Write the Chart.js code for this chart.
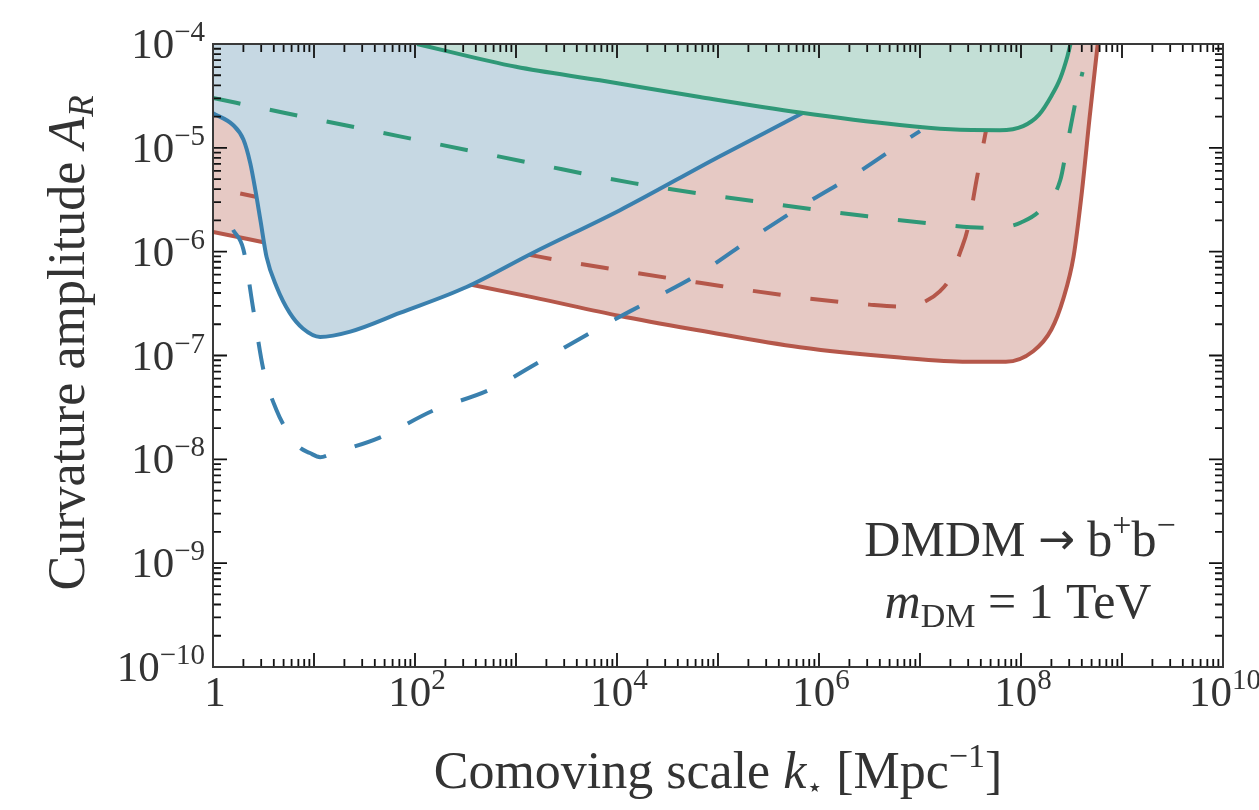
<!DOCTYPE html>
<html>
<head>
<meta charset="utf-8">
<script src="https://cdn.jsdelivr.net/npm/chart.js@4.4.1/dist/chart.umd.min.js"></script>
<style>
  html, body { margin: 0; padding: 0; background: #ffffff; }
  #c { display: block; }
</style>
</head>
<body>
<canvas id="c" width="1259" height="810"></canvas>
<script>
// ---------------- DATA ----------------
// Comoving scale k [Mpc^-1] and curvature amplitude A_R

// Blue solid (filled above)
const blueSolidK = [1.0, 1.58, 2.0, 2.34, 2.63, 2.95, 3.39, 4.27, 5.75, 7.76, 11.5, 22.9, 70.8, 324, 1480, 10700, 100000, 646000, 13500000];
const blueSolidA = [2.15e-5, 1.66e-5, 1.20e-5, 7.08e-6, 3.89e-6, 2.00e-6, 8.91e-7, 4.57e-7, 2.57e-7, 1.82e-7, 1.51e-7, 1.70e-7, 2.57e-7, 4.57e-7, 9.77e-7, 2.51e-6, 8.13e-6, 2.09e-5, 1.0e-4];

// Blue dashed
const blueDashK = [1.58, 2.0, 2.51, 3.16, 4.27, 5.37, 7.08, 9.12, 11.5, 15.5, 44.7, 151, 550, 1860, 6760, 21400, 66100, 224000, 759000, 2400000, 7410000, 10000000];
const blueDashA = [1.62e-6, 1.05e-6, 2.75e-7, 7.24e-8, 2.95e-8, 1.91e-8, 1.32e-8, 1.15e-8, 1.05e-8, 1.15e-8, 1.62e-8, 2.95e-8, 4.68e-8, 9.12e-8, 1.86e-7, 3.39e-7, 6.17e-7, 1.38e-6, 2.95e-6, 5.75e-6, 1.20e-5, 1.45e-5];

// Red solid (filled above)
const redSolidK = [1.0, 10, 100, 1480, 10700, 66100, 646000, 6310000, 29500000, 70800000, 132000000, 200000000, 263000000, 331000000, 398000000, 479000000, 575000000];
const redSolidA = [1.55e-6, 9.77e-7, 6.17e-7, 3.63e-7, 2.40e-7, 1.74e-7, 1.20e-7, 9.55e-8, 8.71e-8, 8.71e-8, 1.10e-7, 1.78e-7, 3.55e-7, 8.91e-7, 3.55e-6, 2.00e-5, 1.0e-4];

// Red dashed
const redDashK = [1.86, 31.6, 1740, 10700, 66100, 646000, 3160000, 7080000, 10700000, 15800000, 20000000, 25100000, 29500000, 36300000, 43700000, 50100000];
const redDashA = [3.63e-6, 2.04e-6, 8.91e-7, 6.61e-7, 5.01e-7, 3.63e-7, 3.09e-7, 2.95e-7, 3.24e-7, 4.17e-7, 5.62e-7, 1.0e-6, 1.62e-6, 4.90e-6, 1.26e-5, 2.51e-5];

// Green solid (filled above)
const greenSolidK = [105, 1000, 6760, 66100, 646000, 6310000, 20000000, 61700000, 105000000, 151000000, 200000000, 245000000, 288000000, 309000000];
const greenSolidA = [1.0e-4, 6.03e-5, 4.47e-5, 3.09e-5, 2.19e-5, 1.66e-5, 1.51e-5, 1.48e-5, 1.62e-5, 2.09e-5, 3.16e-5, 4.68e-5, 7.59e-5, 1.0e-4];

// Green dashed
const greenDashK = [1.0, 4.9, 70.8, 1480, 14500, 302000, 3020000, 13500000, 41700000, 72400000, 100000000, 155000000, 245000000, 288000000, 355000000, 407000000];
const greenDashA = [3.02e-5, 2.19e-5, 1.29e-5, 7.08e-6, 4.57e-6, 2.95e-6, 2.19e-6, 1.86e-6, 1.70e-6, 1.74e-6, 1.91e-6, 2.51e-6, 4.90e-6, 1.10e-5, 3.09e-5, 5.37e-5];

// Axis ticks and labels
const xMajorTicks = [1, 1e1, 1e2, 1e3, 1e4, 1e5, 1e6, 1e7, 1e8, 1e9, 1e10];
const xLabelledTicks = [1, 1e2, 1e4, 1e6, 1e8, 1e10];
const xTickLabels = [["1", ""], ["10", "2"], ["10", "4"], ["10", "6"], ["10", "8"], ["10", "10"]];
const yMajorTicks = [1e-10, 1e-9, 1e-8, 1e-7, 1e-6, 1e-5, 1e-4];
const yTickLabels = [["10", "−10"], ["10", "−9"], ["10", "−8"], ["10", "−7"], ["10", "−6"], ["10", "−5"], ["10", "−4"]];

const xTitleParts = ["Comoving scale ", "k", "⋆", " [Mpc", "−1", "]"];
const yTitleParts = ["Curvature amplitude ", "A", "R"];
const annotLine1 = ["DMDM ", "→", " b", "+", "b", "−"];
const annotLine2 = ["m", "DM", " = 1 TeV"];

// ---------------- STYLE ----------------
const COL = {
  blueLine: '#3a80ae', blueFill: '#c6d8e3',
  redLine: '#b5574a', redFill: '#e6c9c4',
  greenLine: '#2f9877', greenFill: '#c3dfd6',
  text: '#333333', frame: '#3a3a3a'
};
const SERIF = '"Liberation Serif", "DejaVu Serif", serif';

function pts(xs, ys) { return xs.map((x, i) => ({ x: x, y: ys[i] })); }

const dash = [28, 30];

const datasets = [
  { label: 'red solid', data: pts(redSolidK, redSolidA), borderColor: COL.redLine, backgroundColor: COL.redFill, fill: 'end', borderWidth: 4, order: 9 },
  { label: 'red dashed', data: pts(redDashK, redDashA), borderColor: COL.redLine, borderDash: dash, fill: false, borderWidth: 4, order: 8 },
  { label: 'blue solid', data: pts(blueSolidK, blueSolidA), borderColor: COL.blueLine, backgroundColor: COL.blueFill, fill: 'end', borderWidth: 4, order: 7 },
  { label: 'blue dashed', data: pts(blueDashK, blueDashA), borderColor: COL.blueLine, borderDash: dash, fill: false, borderWidth: 4, order: 6 },
  { label: 'green solid', data: pts(greenSolidK, greenSolidA), borderColor: COL.greenLine, backgroundColor: COL.greenFill, fill: 'end', borderWidth: 4, order: 5 },
  { label: 'green dashed', data: pts(greenDashK, greenDashA), borderColor: COL.greenLine, borderDash: dash, fill: false, borderWidth: 4, order: 4 }
];
datasets.forEach(d => { d.pointRadius = 0; d.cubicInterpolationMode = 'monotone'; d.borderCapStyle = 'butt'; d.borderJoinStyle = 'round'; });

// draw a sequence of text runs
function drawRuns(ctx, runs, x, y, align) {
  let w = 0;
  runs.forEach(r => { ctx.font = r.font; w += ctx.measureText(r.t).width + (r.gap || 0); });
  let cx = align === 'center' ? x - w / 2 : (align === 'right' ? x - w : x);
  runs.forEach(r => {
    ctx.font = r.font;
    ctx.fillText(r.t, cx, y + (r.dy || 0));
    cx += ctx.measureText(r.t).width + (r.gap || 0);
  });
}

const framePlugin = {
  id: 'framePlugin',
  afterDatasetsDraw(chart) {
    const { ctx, chartArea: a, scales } = chart;
    const xs = scales.x, ys = scales.y;
    ctx.save();
    ctx.strokeStyle = '#111';
    ctx.lineWidth = 1.8;
    const majL = 14, minL = 8;
    xMajorTicks.forEach((v, i) => {
      const px = xs.getPixelForValue(v);
      ctx.beginPath();
      ctx.moveTo(px, a.bottom); ctx.lineTo(px, a.bottom - majL);
      ctx.moveTo(px, a.top); ctx.lineTo(px, a.top + majL);
      ctx.stroke();
      if (i < xMajorTicks.length - 1) {
        for (let m = 2; m <= 9; m++) {
          const p = xs.getPixelForValue(v * m);
          ctx.beginPath();
          ctx.moveTo(p, a.bottom); ctx.lineTo(p, a.bottom - minL);
          ctx.moveTo(p, a.top); ctx.lineTo(p, a.top + minL);
          ctx.stroke();
        }
      }
    });
    yMajorTicks.forEach((v, i) => {
      const py = ys.getPixelForValue(v);
      ctx.beginPath();
      ctx.moveTo(a.left, py); ctx.lineTo(a.left + majL, py);
      ctx.moveTo(a.right, py); ctx.lineTo(a.right - majL, py);
      ctx.stroke();
      if (i < yMajorTicks.length - 1) {
        for (let m = 2; m <= 9; m++) {
          const p = ys.getPixelForValue(v * m);
          ctx.beginPath();
          ctx.moveTo(a.left, p); ctx.lineTo(a.left + minL, p);
          ctx.moveTo(a.right, p); ctx.lineTo(a.right - minL, p);
          ctx.stroke();
        }
      }
    });
    ctx.strokeStyle = COL.frame;
    ctx.lineWidth = 2;
    ctx.strokeRect(a.left, a.top, a.right - a.left, a.bottom - a.top);
    ctx.restore();
  },
  afterDraw(chart) {
    const { ctx, chartArea: a, scales } = chart;
    ctx.save();
    ctx.fillStyle = COL.text;
    ctx.textBaseline = 'alphabetic';
    const tf = `43px ${SERIF}`, sf = `29px ${SERIF}`;
    // y tick labels
    yMajorTicks.forEach((v, i) => {
      const py = scales.y.getPixelForValue(v);
      const lab = yTickLabels[i];
      drawRuns(ctx, [
        { t: lab[0], font: tf },
        { t: lab[1], font: sf, dy: -17 }
      ], a.left - 8, py + 14, 'right');
    });
    // x tick labels
    xLabelledTicks.forEach((v, i) => {
      const px = scales.x.getPixelForValue(v);
      const lab = xTickLabels[i];
      drawRuns(ctx, [
        { t: lab[0], font: tf },
        { t: lab[1], font: sf, dy: -17 }
      ], px + 2, 706, 'center');
    });
    // x title
    const f = 52;
    drawRuns(ctx, [
      { t: xTitleParts[0], font: `${f}px ${SERIF}` },
      { t: xTitleParts[1], font: `italic ${f}px ${SERIF}` },
      { t: xTitleParts[2], font: `27px "DejaVu Sans", sans-serif`, dy: 8 },
      { t: xTitleParts[3], font: `${f}px ${SERIF}` },
      { t: xTitleParts[4], font: `34px ${SERIF}`, dy: -21 },
      { t: xTitleParts[5], font: `${f}px ${SERIF}` }
    ], (a.left + a.right) / 2, 788, 'center');
    // y title (rotated)
    ctx.save();
    ctx.translate(84, 343);
    ctx.rotate(-Math.PI / 2);
    drawRuns(ctx, [
      { t: yTitleParts[0], font: `${f}px ${SERIF}` },
      { t: yTitleParts[1], font: `italic ${f}px ${SERIF}` },
      { t: yTitleParts[2], font: `italic 35px ${SERIF}`, dy: 9 }
    ], 0, 0, 'center');
    ctx.restore();
    // annotation
    const af = 50;
    drawRuns(ctx, [
      { t: annotLine1[0], font: `${af}px ${SERIF}` },
      { t: annotLine1[1], font: `${af - 6}px "DejaVu Sans", sans-serif`, dy: -2 },
      { t: annotLine1[2], font: `${af}px ${SERIF}` },
      { t: annotLine1[3], font: `34px ${SERIF}`, dy: -20 },
      { t: annotLine1[4], font: `${af}px ${SERIF}` },
      { t: annotLine1[5], font: `34px ${SERIF}`, dy: -20 }
    ], 1020, 556, 'center');
    drawRuns(ctx, [
      { t: annotLine2[0], font: `italic ${af}px ${SERIF}` },
      { t: annotLine2[1], font: `34px ${SERIF}`, dy: 9 },
      { t: annotLine2[2], font: `${af}px ${SERIF}` }
    ], 1018, 618, 'center');
    ctx.restore();
  }
};

new Chart(document.getElementById('c'), {
  type: 'line',
  data: { datasets: datasets },
  options: {
    responsive: false,
    animation: false,
    devicePixelRatio: 1,
    layout: { padding: { top: 44, right: 36, left: 0, bottom: 0 } },
    plugins: {
      legend: { display: false },
      tooltip: { enabled: false },
      filler: { propagate: false }
    },
    scales: {
      x: {
        type: 'logarithmic',
        min: 1, max: 1e10,
        grid: { display: false, drawTicks: false },
        border: { display: false },
        afterBuildTicks: s => { s.ticks = xMajorTicks.map(v => ({ value: v })); },
        afterFit: s => { s.height = 143; },
        ticks: { display: false }
      },
      y: {
        type: 'logarithmic',
        min: 1e-10, max: 1e-4,
        grid: { display: false, drawTicks: false },
        border: { display: false },
        afterBuildTicks: s => { s.ticks = yMajorTicks.map(v => ({ value: v })); },
        afterFit: s => { s.width = 213; },
        ticks: { display: false }
      }
    }
  },
  plugins: [framePlugin]
});
</script>
</body>
</html>
